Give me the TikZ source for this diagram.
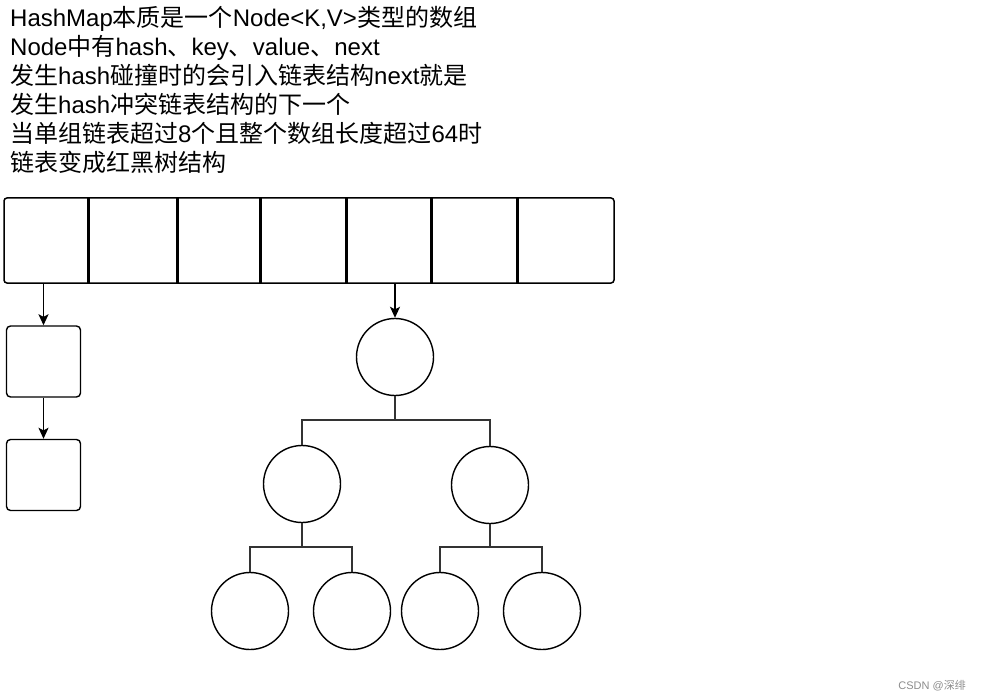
\documentclass[tikz,border=0pt]{standalone}
\usepackage{fontspec}
\setmainfont{Liberation Sans}
\newfontfamily\cjk{Noto Sans CJK SC}
\usepackage{xcolor}
\usepackage{tikz}
\usetikzlibrary{arrows.meta,positioning}
\newcommand{\zh}[1]{{\cjk #1}}

\begin{document}
\begin{tikzpicture}[x=1pt,y=-1pt,
      every node/.style={inner sep=0pt},
      slot/.style={draw,line width=1.5pt,rounded corners=3pt},
      entry/.style={draw,line width=1.4pt,rounded corners=4pt,minimum width=74pt,minimum height=71pt},
      treenode/.style={draw,circle,line width=1.4pt,minimum size=77pt},
      divider/.style={line width=3pt},
      branch/.style={draw=black!80,line width=1.6pt},
      link/.style={->,line width=1.4pt,>={Stealth[length=11pt,width=10pt,inset=2.5pt]}}]
      \useasboundingbox (0,0) rectangle (981,700);
      \node[anchor=north west,align=left,font=\fontsize{24}{29}\selectfont] (intro) at (10,6)
        {HashMap\zh{本质是一个}Node<K,V>\zh{类型的数组}\\
         Node\zh{中有}hash\zh{、}key\zh{、}value\zh{、}next\\
         \zh{发生}hash\zh{碰撞时的会引入链表结构}next\zh{就是}\\
         \zh{发生}hash\zh{冲突链表结构的下一个}\\
         \zh{当单组链表超过}8\zh{个且整个数组长度超过}64\zh{时}\\
         \zh{链表变成红黑树结构}};
      \node[slot,minimum width=610pt,minimum height=85pt] (bucket) at (309,240.5) {};
      \foreach \dx in {88,177,260,346,431,517}
        \draw[divider] (\dx,198) -- (\dx,283);
      \node[entry] (entryA) at (43.5,361.5) {};
      \node[entry] (entryB) at (43.5,475) {};
      \node[treenode] (root) at (395,357) {};
      \node[treenode] (left) at (302,484) {};
      \node[treenode] (right) at (490,485) {};
      \node[treenode] (ll) at (250,611) {};
      \node[treenode] (lr) at (352,611) {};
      \node[treenode] (rl) at (440,611) {};
      \node[treenode] (rr) at (542,611) {};
      \draw[link] (bucket.south -| entryA) -- (entryA);
      \draw[link] (entryA) -- (entryB);
      \draw[link] (bucket.south -| root) -- (root);
      \draw[branch] (root.south) -- ++(0,24) -| (left.north);
      \draw[branch] (root.south) -- ++(0,24) -| (right.north);
      \draw[branch] (left.south) -- ++(0,23.5) -| (ll.north);
      \draw[branch] (left.south) -- ++(0,23.5) -| (lr.north);
      \draw[branch] (right.south) -- ++(0,22.5) -| (rl.north);
      \draw[branch] (right.south) -- ++(0,22.5) -| (rr.north);
      \node[anchor=base east,text=black!45,font=\fontsize{11}{13}\selectfont] (mark) at (966,689) {CSDN @\zh{深绯}};
    \end{tikzpicture}
\end{document}
